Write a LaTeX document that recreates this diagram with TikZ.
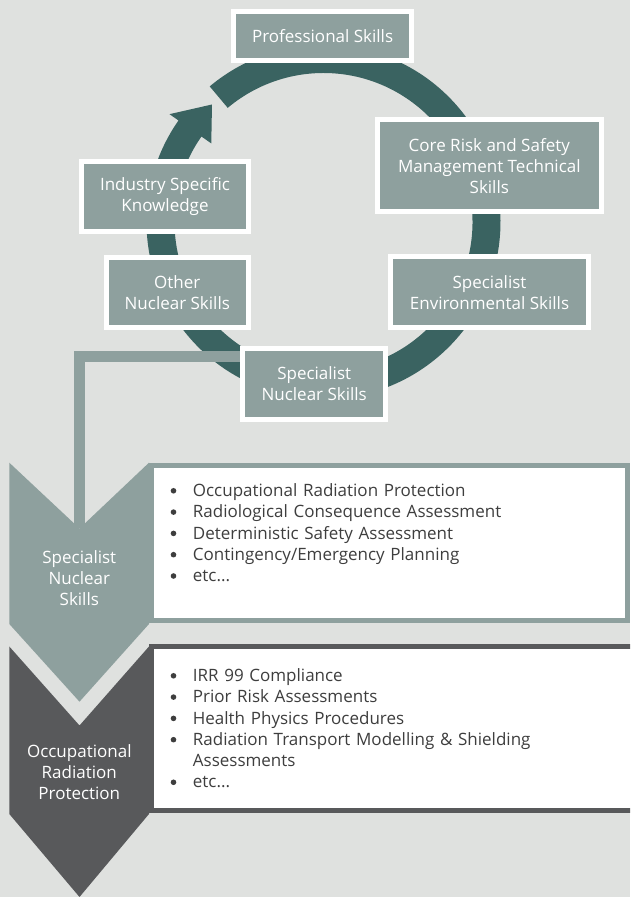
\documentclass[tikz,border=0pt]{standalone}
\usepackage{fontspec}
\setmainfont{Open Sans}
\usepackage{enumitem}
\usetikzlibrary{positioning,calc}
\definecolor{paper}{RGB}{223,225,223}
\definecolor{sage}{RGB}{142,160,158}
\definecolor{pine}{RGB}{58,99,97}
\definecolor{slate}{RGB}{88,89,91}
\definecolor{ink}{RGB}{62,62,62}
\newcommand{\dotmark}{\tikz[baseline=-5.7pt]\fill[ink] (0,0) circle (2.8pt);}
\setlist[itemize]{label=\dotmark, leftmargin=19.5pt, labelsep=16.6pt, labelwidth=5.6pt, topsep=0pt, itemsep=0pt, parsep=0pt, partopsep=0pt}
\tikzset{x=1pt, y=1pt,
skill/.style={draw=white, line width=5pt, fill=sage, text=white, align=center, inner sep=0pt, font=\fontsize{17}{21}\selectfont},
link/.style={draw=sage, line width=11pt},
panel/.style={fill=white, line width=5pt, inner sep=0pt},
tag/.style={text=white, align=center, font=\fontsize{17}{21}\selectfont},
items/.style={text=ink, text width=430pt, inner sep=0pt, anchor=north west, align=left, font=\fontsize{17}{21.3}\selectfont}}

\begin{document}
\begin{tikzpicture}
\clip (0,0) rectangle (630,897);
\fill[paper] (0,0) rectangle (630,897);

% cycle ring, open at the top left, with its head
\coordinate (hub) at (323.5,675);
\fill[pine] ($(hub)+(130:177)$) arc[start angle=130, end angle=-215, radius=177]
  -- ($(hub)+(145:188)$) -- ($(hub)+(133.5:162)$) -- ($(hub)+(145:137)$)
  -- ($(hub)+(145:149)$) arc[start angle=-215, end angle=130, radius=149] -- cycle;

% feed line down into the first chevron
\coordinate (tap) at (245,540);
\coordinate (notch) at (79.5,368.5);
\draw[link] (tap) -| (notch);

\node[skill, minimum width=178pt, minimum height=49pt] (prof) at (322.6,860.7) {Professional Skills};
\node[skill, minimum width=224pt, minimum height=92pt] (core) at (489.3,731.2) {Core Risk and Safety\\Management Technical\\Skills};
\node[skill, minimum width=198pt, minimum height=71pt] (env) at (489.5,604.8) {Specialist\\Environmental Skills};
\node[skill, minimum width=143pt, minimum height=70.5pt] (sns) at (314.2,513.2) {Specialist\\Nuclear Skills};
\node[skill, minimum width=142.5pt, minimum height=70pt] (oth) at (177.3,604.8) {Other\\Nuclear Skills};
\node[skill, minimum width=167pt, minimum height=69.7pt] (ind) at (165,700.3) {Industry Specific\\Knowledge};

% chevrons
\fill[slate] (9.3,250.5) -- (79.5,171.5) -- (149,250.5) -- (149,83) -- (79.5,0) -- (9.3,83) -- cycle;
\fill[sage] (9.3,434.3) -- (notch) -- (149,434.3) -- (149,273) -- (79.5,195.3) -- (9.3,273) -- cycle;

\node[panel, draw=sage, minimum width=476pt, minimum height=155.8pt] (specpanel) at (389.5,353.9) {};
\node[panel, draw=slate, minimum width=486pt, minimum height=164.3pt] (occpanel) at (394.5,168.3) {};

\node[tag] (spectag) at (79.3,318.4) {Specialist\\Nuclear\\Skills};
\node[tag] (occtag) at (79.3,125.3) {Occupational\\Radiation\\Protection};

\node[items] (speclist) at (173.2,422) {\begin{itemize}
  \item Occupational Radiation Protection
  \item Radiological Consequence Assessment
  \item Deterministic Safety Assessment
  \item Contingency/Emergency Planning
  \item etc...
\end{itemize}};
\node[items] (occlist) at (173.2,237) {\begin{itemize}
  \item IRR 99 Compliance
  \item Prior Risk Assessments
  \item Health Physics Procedures
  \item Radiation Transport Modelling \& Shielding\newline Assessments
  \item etc...
\end{itemize}};
\end{tikzpicture}
\end{document}
